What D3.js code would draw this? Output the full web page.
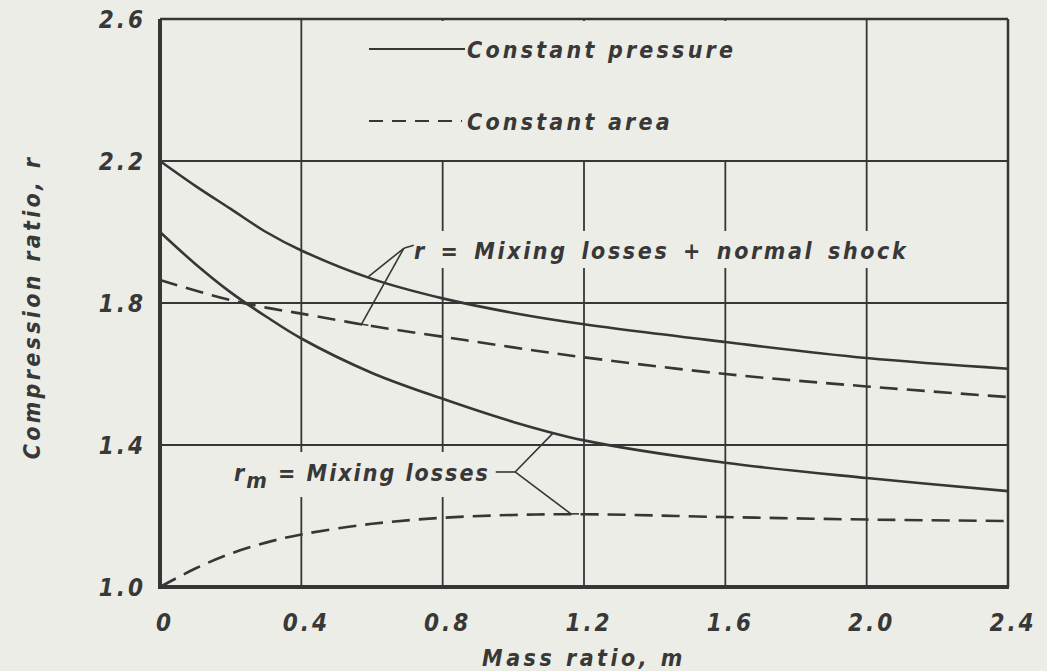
<!DOCTYPE html>
<html lang="en">
<head>
    <meta charset="UTF-8">
    <title>Compression ratio vs mass ratio</title>
    <script src="https://d3js.org/d3.v7.min.js"></script>
    <style>
        body { margin: 0; background: #ededE7; }
        svg text { font-family: "DejaVu Sans Condensed", "DejaVu Sans", sans-serif; font-style: oblique; font-weight: bold; fill: #383838; }
    </style>
</head>
<body>
<svg width="1047" height="671"></svg>
<script>
    // mass ratio m
    let massRatio = [0, 0.1, 0.2, 0.3, 0.4, 0.6, 0.8, 1.0, 1.2, 1.6, 2.0, 2.4]
    // r = mixing losses + normal shock
    let rConstPressure = [2.20, 2.13, 2.065, 2.0, 1.948, 1.868, 1.813, 1.772, 1.74, 1.69, 1.645, 1.615]
    let rConstArea     = [1.865, 1.835, 1.808, 1.787, 1.77, 1.735, 1.705, 1.675, 1.647, 1.60, 1.565, 1.535]
    // r_m = mixing losses
    let rmConstPressure = [2.0, 1.91, 1.83, 1.762, 1.70, 1.603, 1.53, 1.465, 1.413, 1.35, 1.307, 1.27]
    let rmConstArea     = [1.0, 1.052, 1.094, 1.125, 1.148, 1.178, 1.195, 1.203, 1.205, 1.197, 1.19, 1.186]

    let xTicks = [0, 0.4, 0.8, 1.2, 1.6, 2.0, 2.4]
    let yTicks = [1.0, 1.4, 1.8, 2.2, 2.6]
    let xTickLabels = ["0", "0.4", "0.8", "1.2", "1.6", "2.0", "2.4"]
    let yTickLabels = ["1.0", "1.4", "1.8", "2.2", "2.6"]

    let svg = d3.select('svg')
    let ink = "#363636"
    let bg = "#ededE7"

    let x = d3.scaleLinear().domain([0, 2.4]).range([160, 1008])
    let y = d3.scaleLinear().domain([1.0, 2.6]).range([587, 19])

    // vertical grid
    svg.append("g").selectAll("line").data(xTicks.slice(1, -1)).enter().append("line")
        .attr("x1", d => x(d)).attr("x2", d => x(d))
        .attr("y1", y(2.6)).attr("y2", y(1.0))
        .attr("stroke", ink).attr("stroke-width", 1.8)

    // legend area is blank in the top band
    svg.append("rect").attr("x", 318).attr("y", y(2.6) + 2)
        .attr("width", 530).attr("height", y(2.2) - y(2.6) - 3).attr("fill", bg)

    // horizontal grid
    svg.append("g").selectAll("line").data(yTicks.slice(1, -1)).enter().append("line")
        .attr("x1", x(0)).attr("x2", x(2.4))
        .attr("y1", d => y(d)).attr("y2", d => y(d))
        .attr("stroke", ink).attr("stroke-width", 1.8)

    // frame
    svg.append("line").attr("x1", x(0)).attr("x2", x(2.4)).attr("y1", y(2.6)).attr("y2", y(2.6))
        .attr("stroke", ink).attr("stroke-width", 2.5)
    svg.append("line").attr("x1", x(2.4)).attr("x2", x(2.4)).attr("y1", y(2.6)).attr("y2", y(1.0))
        .attr("stroke", ink).attr("stroke-width", 2.5)
    svg.append("line").attr("x1", x(0)).attr("x2", x(0)).attr("y1", y(2.6)).attr("y2", y(1.0) + 2)
        .attr("stroke", ink).attr("stroke-width", 4)
    svg.append("line").attr("x1", x(0) - 2).attr("x2", x(2.4) + 1).attr("y1", y(1.0)).attr("y2", y(1.0))
        .attr("stroke", ink).attr("stroke-width", 4)

    // tick labels
    svg.append("g").selectAll("text").data(xTicks).enter().append("text")
        .attr("x", d => x(d) + 5).attr("y", 631)
        .attr("text-anchor", "middle").attr("font-size", 24).attr("letter-spacing", 3)
        .text((d, i) => xTickLabels[i])
    svg.append("g").selectAll("text").data(yTicks).enter().append("text")
        .attr("x", 146).attr("y", d => y(d) + 9)
        .attr("text-anchor", "end").attr("font-size", 24).attr("letter-spacing", 3)
        .text((d, i) => yTickLabels[i])

    // axis titles
    svg.append("text").attr("x", 584).attr("y", 666).attr("text-anchor", "middle")
        .attr("font-size", 23).attr("letter-spacing", 3.5).text("Mass ratio, m")
    svg.append("text").attr("transform", "translate(40,307) rotate(-90)").attr("text-anchor", "middle")
        .attr("font-size", 23).attr("letter-spacing", 3.3).text("Compression ratio, r")

    // curves
    let line = d3.line().x(d => x(d[0])).y(d => y(d[1])).curve(d3.curveCatmullRom.alpha(0.5))
    let series = [
        {v: rConstPressure, dash: null},
        {v: rConstArea, dash: "18,9"},
        {v: rmConstPressure, dash: null},
        {v: rmConstArea, dash: "18,9"}
    ]
    svg.append("g").selectAll("path").data(series).enter().append("path")
        .attr("d", s => line(massRatio.map((m, i) => [m, s.v[i]])))
        .attr("fill", "none").attr("stroke", ink).attr("stroke-width", 2.6)
        .attr("stroke-dasharray", s => s.dash)

    // legend
    svg.append("line").attr("x1", 369).attr("x2", 465).attr("y1", 49).attr("y2", 49)
        .attr("stroke", ink).attr("stroke-width", 2)
    svg.append("text").attr("x", 467).attr("y", 58).attr("font-size", 23).attr("letter-spacing", 3.2)
        .text("Constant pressure")
    svg.append("line").attr("x1", 369).attr("x2", 462).attr("y1", 121).attr("y2", 121)
        .attr("stroke", ink).attr("stroke-width", 2).attr("stroke-dasharray", "14,9")
    svg.append("text").attr("x", 467).attr("y", 130).attr("font-size", 23).attr("letter-spacing", 3.2)
        .text("Constant area")

    // annotation: r = mixing losses + normal shock
    let hub1 = [0.69, 1.954]
    let upTxt = svg.append("text").attr("x", 414).attr("y", 259).attr("font-size", 23).attr("letter-spacing", 2.6)
        .attr("word-spacing", 4).text("r = Mixing  losses + normal  shock")
    let b1 = upTxt.node().getBBox()
    svg.insert("rect", () => upTxt.node()).attr("x", b1.x - 2).attr("y", 231).attr("width", b1.width + 2).attr("height", 37)
        .attr("fill", bg)
    svg.append("path").attr("d", `M${x(hub1[0])},${y(hub1[1])}L${x(hub1[0]) + 10},${y(hub1[1]) - 3}`)
        .attr("stroke", ink).attr("stroke-width", 1.6).attr("fill", "none")
    svg.append("line").attr("x1", x(hub1[0])).attr("y1", y(hub1[1])).attr("x2", x(0.59)).attr("y2", y(1.874))
        .attr("stroke", ink).attr("stroke-width", 1.6)
    svg.append("line").attr("x1", x(hub1[0])).attr("y1", y(hub1[1])).attr("x2", x(0.57)).attr("y2", y(1.74))
        .attr("stroke", ink).attr("stroke-width", 1.6)
    svg.append("line").attr("x1", x(0.57) - 7).attr("y1", y(1.74) - 1).attr("x2", x(0.57) + 7).attr("y2", y(1.74) + 1)
        .attr("stroke", ink).attr("stroke-width", 1.6)

    // annotation: r_m = mixing losses
    let lowTxt = svg.append("text").attr("x", 234).attr("y", 481).attr("font-size", 23).attr("letter-spacing", 2)
    lowTxt.append("tspan").text("r")
    lowTxt.append("tspan").attr("dy", 7).attr("font-size", 22).text("m")
    lowTxt.append("tspan").attr("dy", -7).text(" = Mixing   losses")
    let b2 = lowTxt.node().getBBox()
    svg.insert("rect", () => lowTxt.node()).attr("x", b2.x - 2).attr("y", 452).attr("width", b2.width + 4).attr("height", 45)
        .attr("fill", bg)
    let hub2 = [1.005, 1.324]
    svg.append("line").attr("x1", b2.x + b2.width + 6).attr("y1", y(hub2[1])).attr("x2", x(hub2[0])).attr("y2", y(hub2[1]))
        .attr("stroke", ink).attr("stroke-width", 1.6)
    svg.append("line").attr("x1", x(hub2[0])).attr("y1", y(hub2[1])).attr("x2", x(1.113)).attr("y2", y(1.434))
        .attr("stroke", ink).attr("stroke-width", 1.6)
    svg.append("line").attr("x1", x(hub2[0])).attr("y1", y(hub2[1])).attr("x2", x(1.163)).attr("y2", y(1.206))
        .attr("stroke", ink).attr("stroke-width", 1.6)
    svg.append("line").attr("x1", x(1.163) - 6).attr("y1", y(1.206)).attr("x2", x(1.163) + 8).attr("y2", y(1.206))
        .attr("stroke", ink).attr("stroke-width", 1.6)
</script>
</body>
</html>
